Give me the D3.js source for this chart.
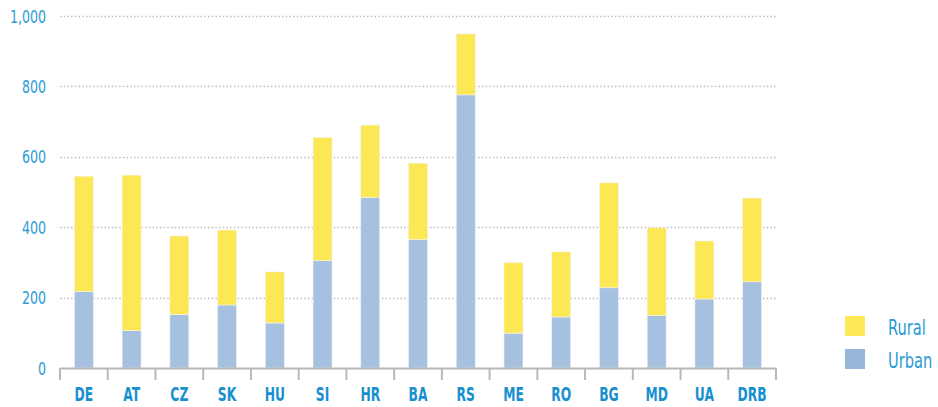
<!DOCTYPE html>
<html>
<head>
<meta charset="utf-8">
<script src="https://cdn.jsdelivr.net/npm/d3@7"></script>
<style>
  body { margin: 0; background: #fff; }
  text { font-family: "DejaVu Sans Condensed", "DejaVu Sans", sans-serif; }
</style>
</head>
<body>
<div id="container"></div>
<script>
// data
var countries = ["DE", "AT", "CZ", "SK", "HU", "SI", "HR", "BA", "RS", "ME", "RO", "BG", "MD", "UA", "DRB"];
var urban = [217, 106, 152, 179, 128, 305, 485, 365, 776, 99, 145, 228, 149, 196, 245];
var rural = [328, 442, 223, 213, 145, 350, 205, 217, 173, 200, 185, 298, 249, 165, 238];
var yTicks = [0, 200, 400, 600, 800, 1000];
var seriesNames = ["Rural", "Urban"];
var seriesColors = ["#fce755", "#a6c1e0"];

// margins
var margin = { top: 16, right: 162, bottom: 39, left: 60 },
	width = 938 - margin.left - margin.right,
	height = 407 - margin.top - margin.bottom;

var svg = d3.select("#container").append("svg")
	.attr("width", 938)
	.attr("height", 407)
  .append("g")
	.attr("transform", "translate(" + margin.left + "," + margin.top + ")");

var x = d3.scaleBand()
	.domain(countries)
	.range([0, width]);

var y = d3.scaleLinear()
	.domain([0, 1000])
	.range([height, 0]);

// dotted grid lines
svg.selectAll(".grid")
	.data(yTicks.filter(function(d) { return d > 0; }))
	.enter().append("line")
	.attr("class", "grid")
	.attr("x1", 0)
	.attr("x2", width)
	.attr("y1", function(d) { return Math.round(y(d)) + 0.5; })
	.attr("y2", function(d) { return Math.round(y(d)) + 0.5; })
	.style("stroke", "#bdbdbd")
	.style("stroke-width", 1.5)
	.style("stroke-dasharray", "1.5,2.2");

// y labels (condensed look via horizontal squeeze)
svg.selectAll(".ylab")
	.data(yTicks)
	.enter().append("text")
	.attr("class", "ylab")
	.attr("transform", function(d) { return "translate(-14," + (y(d) + 6.5) + ") scale(0.78,1)"; })
	.style("text-anchor", "end")
	.style("font-size", "18px")
	.style("fill", "#2a9bd4")
	.text(d3.format(","));

// stacked bars
var bw = 19;
var stackData = countries.map(function(c, i) { return { c: c, Urban: urban[i], Rural: rural[i] }; });
var stack = d3.stack().keys(["Urban", "Rural"]);
var layers = stack(stackData);

svg.selectAll(".layer")
	.data(layers)
	.enter().append("g")
	.attr("class", "layer")
	.style("fill", function(d) { return d.key == "Urban" ? seriesColors[1] : seriesColors[0]; })
	.selectAll("rect")
	.data(function(d) { return d; })
	.enter().append("rect")
	.attr("x", function(d) { return x(d.data.c) + x.bandwidth() / 2 - bw / 2; })
	.attr("width", bw)
	.attr("y", function(d) { return y(d[1]); })
	.attr("height", function(d) { return y(d[0]) - y(d[1]); })
	.style("stroke", "#f4f4f4")
	.style("stroke-width", 0.6);

// x axis: baseline + tick marks at band edges
var axis = svg.append("g")
	.attr("class", "x axis")
	.attr("transform", "translate(0," + height + ")");

axis.append("line")
	.attr("x1", 0).attr("x2", width)
	.attr("y1", 0.5).attr("y2", 0.5)
	.style("stroke", "#b8b8b8")
	.style("stroke-width", 2);

var edges = countries.map(function(c) { return x(c); }).concat([width]);
axis.selectAll(".tick")
	.data(edges)
	.enter().append("line")
	.attr("class", "tick")
	.attr("x1", function(d) { return d; })
	.attr("x2", function(d) { return d; })
	.attr("y1", 0)
	.attr("y2", 12)
	.style("stroke", "#b8b8b8")
	.style("stroke-width", 2);

axis.selectAll(".xlab")
	.data(countries)
	.enter().append("text")
	.attr("class", "xlab")
	.attr("transform", function(d) { return "translate(" + (x(d) + x.bandwidth() / 2) + ",33) scale(0.72,1)"; })
	.style("text-anchor", "middle")
	.style("font-size", "19px")
	.style("font-weight", "bold")
	.style("fill", "#1790d0")
	.text(function(d) { return d; });

// legend
var legend = d3.select("svg").append("g")
	.attr("transform", "translate(845,316)");

legend.selectAll("rect")
	.data(seriesNames)
	.enter().append("rect")
	.attr("x", 0)
	.attr("y", function(d, i) { return i * 33; })
	.attr("width", 20)
	.attr("height", 20)
	.style("fill", function(d, i) { return i == 0 ? seriesColors[0] : "#98b5da"; });

legend.selectAll("text")
	.data(seriesNames)
	.enter().append("text")
	.attr("transform", function(d, i) { return "translate(43," + (i * 33 + 19) + ") scale(0.74,1)"; })
	.style("font-size", "22px")
	.style("fill", "#2a9bd4")
	.text(function(d) { return d; });
</script>
</body>
</html>
